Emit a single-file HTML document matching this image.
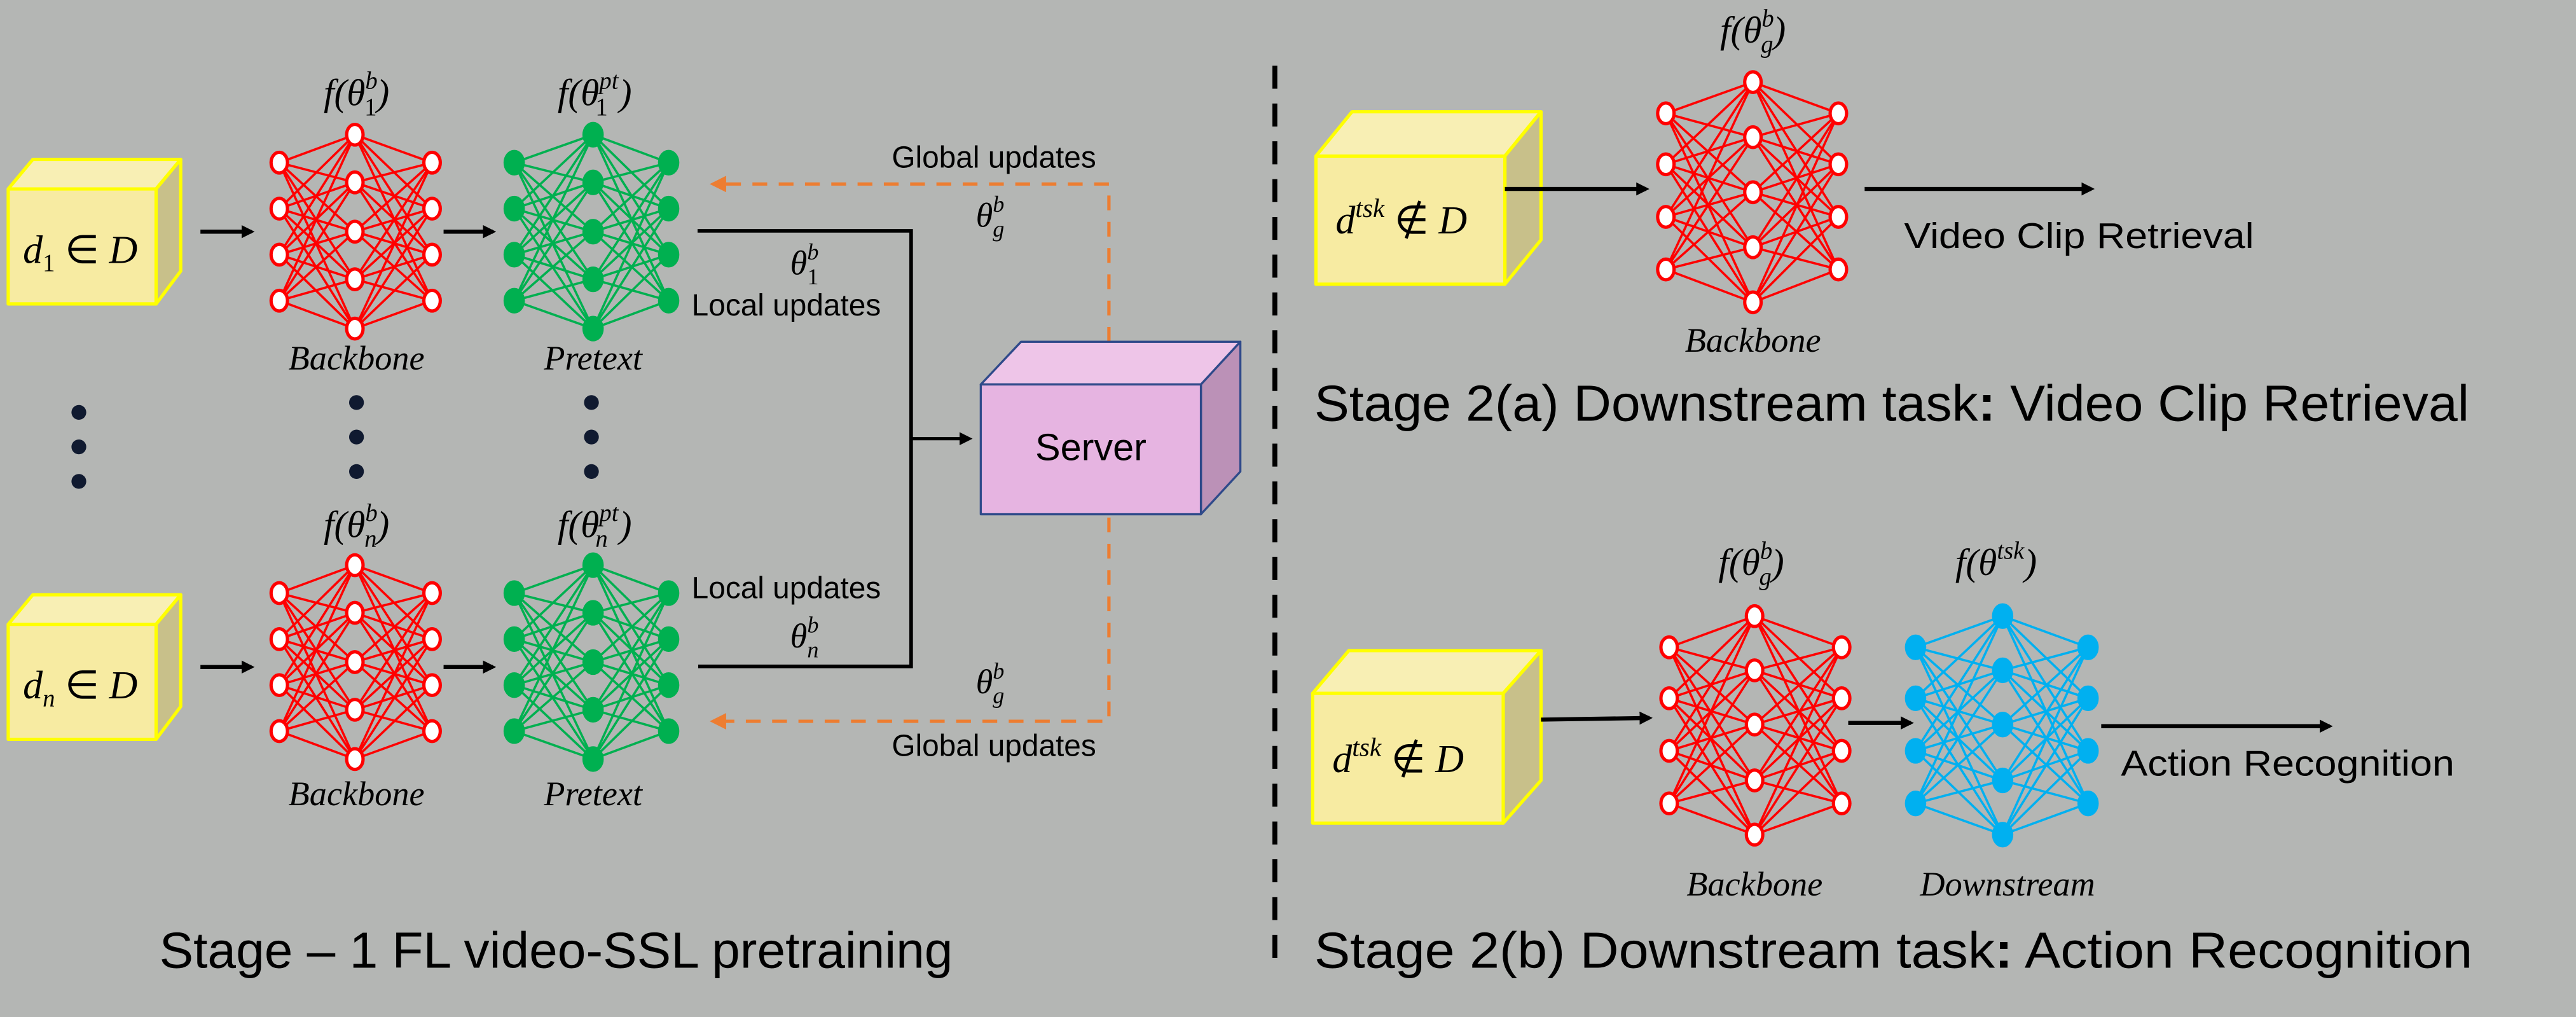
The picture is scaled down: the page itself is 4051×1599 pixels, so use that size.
<!DOCTYPE html>
<html><head><meta charset="utf-8"><style>
html,body{margin:0;padding:0;background:#b4b6b4;}
svg{display:block}
.m{font-family:"Liberation Serif",serif;font-style:italic;fill:#000}
.s{font-family:"Liberation Sans",sans-serif;fill:#000}
</style></head><body>
<svg id="g" width="4051" height="1599" viewBox="0 0 1568 619" preserveAspectRatio="none" xmlns="http://www.w3.org/2000/svg">
<rect width="1568" height="619" fill="#b4b6b4"/>
<defs>
<marker id="ab" markerWidth="8" markerHeight="8" refX="6" refY="4" orient="auto" markerUnits="userSpaceOnUse"><path d="M0,0 L8,4 L0,8 z" fill="#000"/></marker>
<marker id="ao" markerWidth="10" markerHeight="10" refX="8" refY="5" orient="auto" markerUnits="userSpaceOnUse"><path d="M0,0 L10,5 L0,10 z" fill="#ed7d31"/></marker>
</defs>
<g id="nets"></g>

<g stroke="#ffff00" stroke-width="2" stroke-linejoin="round">
<polygon points="5,115 20,97 110,97 95,115" fill="#f8efb4"/><polygon points="95,115 110,97 110,165 95,185" fill="#c8c08a"/><rect x="5" y="115" width="90" height="70" fill="#f7eba2"/>
<polygon points="5,380 20,362 110,362 95,380" fill="#f8efb4"/><polygon points="95,380 110,362 110,430 95,450" fill="#c8c08a"/><rect x="5" y="380" width="90" height="70" fill="#f7eba2"/>
<polygon points="801,95 823,68 938,68 916,95" fill="#f8efb4"/><polygon points="916,95 938,68 938,146 916,173" fill="#c8c08a"/><rect x="801" y="95" width="115" height="78" fill="#f7eba2"/>
<polygon points="799,422 821,396 938,396 915,422" fill="#f8efb4"/><polygon points="915,422 938,396 938,475 915,501" fill="#c8c08a"/><rect x="799" y="422" width="116" height="79" fill="#f7eba2"/>
</g>
<text class="m" x="14" y="160" font-size="24">d<tspan font-size="15" dy="5" font-style="normal">1</tspan><tspan dy="-5" font-style="normal"> ∈ </tspan>D</text>
<text class="m" x="14" y="425" font-size="24">d<tspan font-size="15" dy="5">n</tspan><tspan dy="-5" font-style="normal"> ∈ </tspan>D</text>
<text class="m" x="813" y="142" font-size="24">d<tspan font-size="16" dy="-10">tsk</tspan><tspan dy="10" font-style="normal"> ∉ </tspan>D</text>
<text class="m" x="811" y="470" font-size="24">d<tspan font-size="16" dy="-10">tsk</tspan><tspan dy="10" font-style="normal"> ∉ </tspan>D</text>

<g stroke="#000" stroke-width="2.5" fill="none" marker-end="url(#ab)">
<line x1="122" y1="141" x2="153" y2="141"/><line x1="270" y1="141" x2="300" y2="141"/>
<line x1="122" y1="406" x2="153" y2="406"/><line x1="270" y1="406" x2="300" y2="406"/>
<line x1="916" y1="115" x2="1002" y2="115"/><line x1="1135" y1="115" x2="1273" y2="115"/>
<line x1="938" y1="438" x2="1004" y2="437"/><line x1="1125" y1="440" x2="1163" y2="440"/><line x1="1279" y1="442" x2="1418" y2="442"/>
<line x1="555" y1="267" x2="590" y2="267" stroke-width="2"/>
</g>
<polyline points="424.6,140.5 554.6,140.5 554.6,405.6 425,405.6" fill="none" stroke="#000" stroke-width="2.2"/>

<g stroke="#ed7d31" stroke-width="2" fill="none" stroke-dasharray="9,7">
<polyline points="675,208 675,112 434,112" marker-end="url(#ao)"/>
<polyline points="675,315 675,439 434,439" marker-end="url(#ao)"/>
</g>

<g stroke="#2f4a8a" stroke-width="1.3" stroke-linejoin="round">
<polygon points="597,234 621.5,208 755,208 731,234" fill="#eec5e8"/>
<polygon points="731,234 755,208 755,287 731,313" fill="#bb91b7"/>
<rect x="597" y="234" width="134" height="79" fill="#e6b4e1"/>
</g>
<text class="s" x="664" y="280" font-size="23" text-anchor="middle">Server</text>

<text class="s" x="605" y="102" font-size="18.5" text-anchor="middle">Global updates</text>
<text class="s" x="605" y="460" font-size="18.5" text-anchor="middle">Global updates</text>
<text class="s" x="421" y="192" font-size="18.5">Local updates</text>
<text class="s" x="421" y="364" font-size="18.5">Local updates</text>
<text class="m" x="481" y="167" font-size="21">θ<tspan font-size="14" dy="-9">b</tspan><tspan font-size="14" dx="-7" dy="15" font-style="normal">1</tspan></text>
<text class="m" x="481" y="394" font-size="21">θ<tspan font-size="14" dy="-9">b</tspan><tspan font-size="14" dx="-7" dy="15">n</tspan></text>
<text class="m" x="594" y="138" font-size="21">θ<tspan font-size="14" dy="-9">b</tspan><tspan font-size="14" dx="-7" dy="15">g</tspan></text>
<text class="m" x="594" y="422" font-size="21">θ<tspan font-size="14" dy="-9">b</tspan><tspan font-size="14" dx="-7" dy="15">g</tspan></text>

<g class="m" font-size="23" text-anchor="middle">
<text x="217" y="64">f(θ<tspan font-size="15" dy="-10">b</tspan><tspan font-size="15" dx="-8" dy="16" font-style="normal">1</tspan><tspan dy="-6">)</tspan></text>
<text x="362" y="64">f(θ<tspan font-size="15" dy="-10">pt</tspan><tspan font-size="15" dx="-14" dy="16" font-style="normal">1</tspan><tspan dx="7" dy="-6">)</tspan></text>
<text x="217" y="327">f(θ<tspan font-size="15" dy="-10">b</tspan><tspan font-size="15" dx="-8" dy="16">n</tspan><tspan dy="-6">)</tspan></text>
<text x="362" y="327">f(θ<tspan font-size="15" dy="-10">pt</tspan><tspan font-size="15" dx="-14" dy="16">n</tspan><tspan dx="7" dy="-6">)</tspan></text>
<text x="1067" y="26">f(θ<tspan font-size="15" dy="-10">b</tspan><tspan font-size="15" dx="-8" dy="16">g</tspan><tspan dy="-6">)</tspan></text>
<text x="1066" y="350">f(θ<tspan font-size="15" dy="-10">b</tspan><tspan font-size="15" dx="-8" dy="16">g</tspan><tspan dy="-6">)</tspan></text>
<text x="1215" y="350">f(θ<tspan font-size="15" dy="-10">tsk</tspan><tspan dy="10">)</tspan></text>
</g>
<g class="m" font-size="21" text-anchor="middle">
<text x="217" y="225">Backbone</text><text x="361" y="225">Pretext</text>
<text x="217" y="490">Backbone</text><text x="361" y="490">Pretext</text>
<text x="1067" y="214">Backbone</text>
<text x="1068" y="545">Backbone</text><text x="1222" y="545">Downstream</text>
</g>

<g fill="#101a30">
<circle cx="48" cy="251" r="4.5"/><circle cx="48" cy="272" r="4.5"/><circle cx="48" cy="293" r="4.5"/>
<circle cx="217" cy="245" r="4.5"/><circle cx="217" cy="266" r="4.5"/><circle cx="217" cy="287" r="4.5"/>
<circle cx="360" cy="245" r="4.5"/><circle cx="360" cy="266" r="4.5"/><circle cx="360" cy="287" r="4.5"/>
</g>

<line x1="776" y1="40" x2="776" y2="592" stroke="#000" stroke-width="3" stroke-dasharray="14,9"/>

<text class="s" x="1159" y="151" font-size="22" textLength="213" lengthAdjust="spacingAndGlyphs">Video Clip Retrieval</text>
<text class="s" x="1291" y="472" font-size="22" textLength="203" lengthAdjust="spacingAndGlyphs">Action Recognition</text>
<text class="s" x="800" y="256" font-size="31" textLength="703" lengthAdjust="spacingAndGlyphs">Stage 2(a) Downstream task<tspan font-weight="bold">:</tspan> Video Clip Retrieval</text>
<text class="s" x="800" y="589" font-size="31" textLength="705" lengthAdjust="spacingAndGlyphs">Stage 2(b) Downstream task<tspan font-weight="bold">:</tspan> Action Recognition</text>
<text class="s" x="97" y="589" font-size="31" textLength="483" lengthAdjust="spacingAndGlyphs">Stage – 1 FL video-SSL pretraining</text>
</svg>
<script>
(function(){
var g=document.getElementById("nets");
function net(xs,cy,sy,col,hollow){
  var e="",xl=xs[0],xc=xs[1],xr=xs[2];
  for(var i=0;i<sy.length;i++)for(var j=0;j<cy.length;j++){
    e+='<line x1="'+xl+'" y1="'+sy[i]+'" x2="'+xc+'" y2="'+cy[j]+'"/>';
    e+='<line x1="'+xr+'" y1="'+sy[i]+'" x2="'+xc+'" y2="'+cy[j]+'"/>';
  }
  var n="";
  function nd(x,y){n+='<ellipse cx="'+x+'" cy="'+y+'" rx="'+(hollow?5:5.5)+'" ry="'+(hollow?6.3:6.8)+'"/>';}
  sy.forEach(function(y){nd(xl,y);nd(xr,y);});
  cy.forEach(function(y){nd(xc,y);});
  var s='<g stroke="'+col+'" stroke-width="1.4">'+e+'</g>';
  s+='<g stroke="'+col+'" stroke-width="2" fill="'+(hollow?"#fff":col)+'">'+n+'</g>';
  g.insertAdjacentHTML("beforeend",s);
}
var c1=[82,111,141,170,200],s1=[99,127,155,183];
var off=262,cn=c1.map(function(v){return v+off}),sn=s1.map(function(v){return v+off});
net([170,216,263],c1,s1,"#ff0000",true);
net([313,361,407],c1,s1,"#00b050",false);
net([170,216,263],cn,sn,"#ff0000",true);
net([313,361,407],cn,sn,"#00b050",false);
net([1014,1067,1119],[50,83.5,117,150.5,184],[69,100,132,164],"#ff0000",true);
var c3=[375,408,441,475,508],s3=[394,425,457,489];
net([1016,1068,1121],c3,s3,"#ff0000",true);
net([1166,1219,1271],c3,s3,"#00b0f0",false);
})();
</script>
</body></html>
